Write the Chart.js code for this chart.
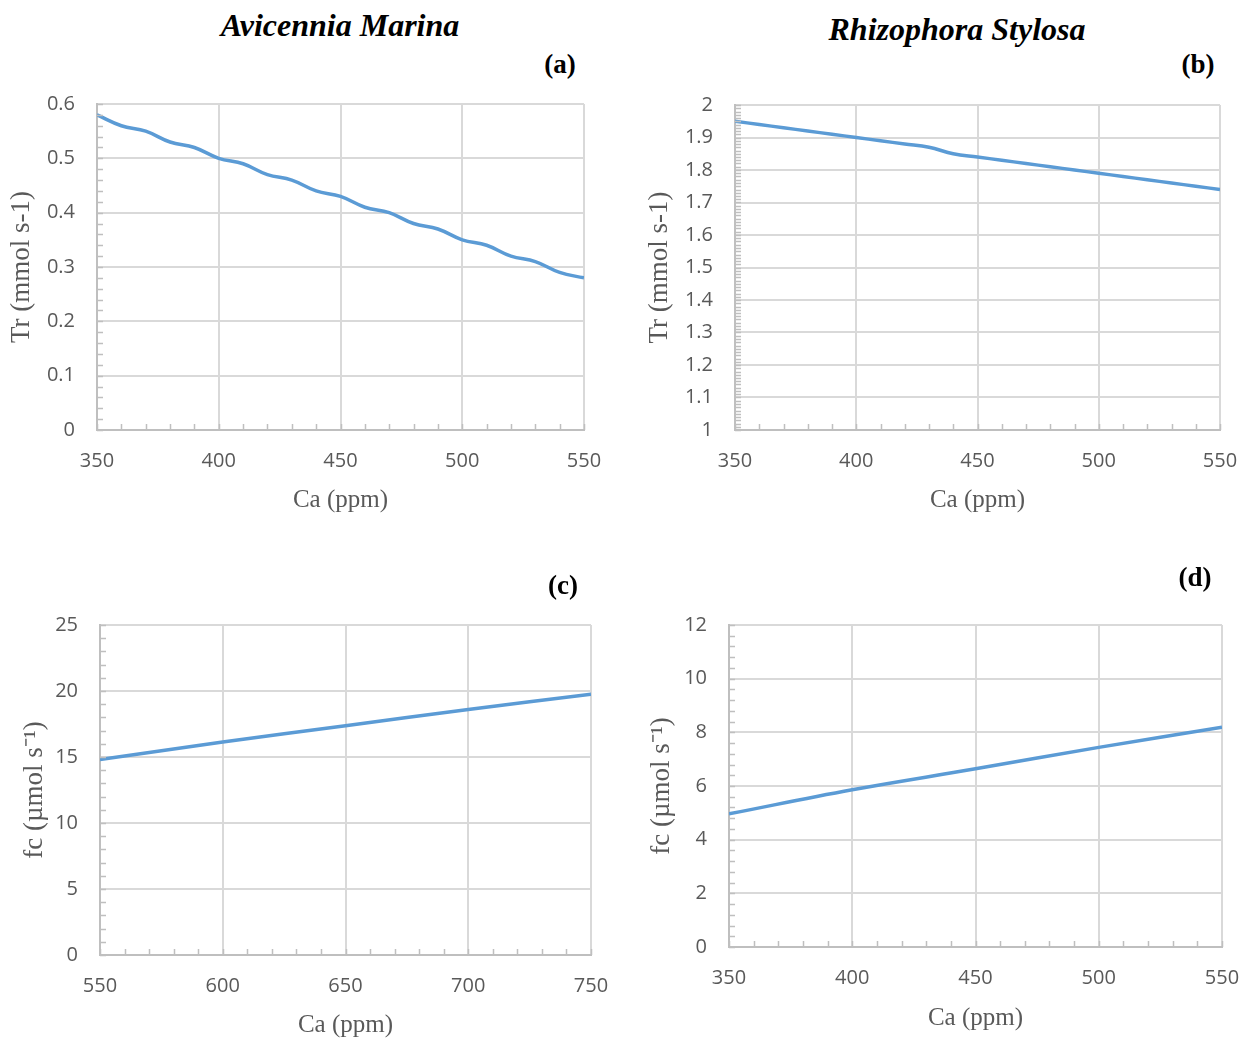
<!DOCTYPE html>
<html>
<head>
<meta charset="utf-8">
<script src="https://cdn.jsdelivr.net/npm/chart.js@4.4.1/dist/chart.umd.min.js"></script>
<style>
  html, body { margin: 0; padding: 0; background: #ffffff; }
  #wrap { position: relative; width: 1254px; height: 1040px; overflow: hidden; background: #fff; }
  .panel { position: absolute; }
  .panel canvas { display: block; }
  .txt { position: absolute; transform: translate(-50%, -50%); white-space: nowrap; font-family: "Liberation Serif", "Times New Roman", serif; color: #000; }
  .ttl { font-size: 32px; font-weight: bold; font-style: italic; }
  .lbl { font-size: 27px; font-weight: bold; }
</style>
</head>
<body>
<div id="wrap">
  <div class="panel" style="left:0px;top:90px;width:627px;height:440px;"><canvas id="cA" width="627" height="440"></canvas></div>
  <div class="panel" style="left:627px;top:90px;width:627px;height:440px;"><canvas id="cB" width="627" height="440"></canvas></div>
  <div class="panel" style="left:0px;top:560px;width:627px;height:480px;"><canvas id="cC" width="627" height="480"></canvas></div>
  <div class="panel" style="left:627px;top:560px;width:627px;height:480px;"><canvas id="cD" width="627" height="480"></canvas></div>
  <div class="txt ttl" style="left:340px;top:25px;">Avicennia Marina</div>
  <div class="txt ttl" style="left:957px;top:29px;">Rhizophora Stylosa</div>
  <div class="txt lbl" style="left:560px;top:64px;">(a)</div>
  <div class="txt lbl" style="left:1198px;top:64px;">(b)</div>
  <div class="txt lbl" style="left:563px;top:585px;">(c)</div>
  <div class="txt lbl" style="left:1195px;top:577px;">(d)</div>
</div>
<script>
// ---------------- DATA ----------------
const caA = [350, 360, 370, 380, 390, 400, 410, 420, 430, 440, 450, 460, 470, 480, 490, 500, 510, 520, 530, 540, 550];
const trA = [0.58, 0.56, 0.55, 0.53, 0.52, 0.50, 0.49, 0.47, 0.46, 0.44, 0.43, 0.41, 0.40, 0.38, 0.37, 0.35, 0.34, 0.32, 0.31, 0.29, 0.28];

const caB = [350, 360, 370, 380, 390, 400, 410, 420, 430, 440, 450, 460, 470, 480, 490, 500, 510, 520, 530, 540, 550];
const trB = [1.95, 1.94, 1.93, 1.92, 1.91, 1.90, 1.89, 1.88, 1.87, 1.85, 1.84, 1.83, 1.82, 1.81, 1.80, 1.79, 1.78, 1.77, 1.76, 1.75, 1.74];

const caC = [550, 600, 650, 700, 750];
const fcC = [14.8, 16.13, 17.37, 18.6, 19.75];

const caD = [350, 400, 450, 500, 550];
const fcD = [4.96, 5.86, 6.64, 7.44, 8.19];

const xTicksAB = [350, 400, 450, 500, 550];
const xTicksC = [550, 600, 650, 700, 750];
const xTicksD = [350, 400, 450, 500, 550];
const yTicksA = [0, 0.1, 0.2, 0.3, 0.4, 0.5, 0.6];
const yTicksB = [1, 1.1, 1.2, 1.3, 1.4, 1.5, 1.6, 1.7, 1.8, 1.9, 2];
const yTicksC = [0, 5, 10, 15, 20, 25];
const yTicksD = [0, 2, 4, 6, 8, 10, 12];

const xTitle = "Ca (ppm)";
const yTitleTr = "Tr (mmol s-1)";
const yTitleFc = "fc (\u00B5mol s\u207B\u00B9)";

// ---------------- STYLE ----------------
const LINE = "#5b9bd5";
const GRID = "#d9d9d9";
const AXIS = "#bfbfbf";
const TEXT = "#595959";
const TICKFONT = { family: "'Open Sans', 'Liberation Sans', sans-serif", size: 20 };
const XTITLEFONT = { family: "'Liberation Serif', 'Times New Roman', serif", size: 25 };
const YTITLEFONT = { family: "'Liberation Serif', 'Times New Roman', serif", size: 27 };

const minorTicks = {
  id: 'minorTicks',
  afterDraw(chart, args, opts) {
    const { ctx, chartArea } = chart;
    const xs = chart.scales.x, ys = chart.scales.y;
    ctx.save();
    ctx.strokeStyle = AXIS;
    ctx.lineWidth = 1.5;
    ctx.beginPath();
    const ny = Math.round((ys.max - ys.min) / opts.y);
    for (let i = 0; i <= ny; i++) {
      const p = Math.round(ys.getPixelForValue(ys.min + i * opts.y)) + 0.5;
      ctx.moveTo(chartArea.left, p);
      ctx.lineTo(chartArea.left + 6, p);
    }
    const nx = Math.round((xs.max - xs.min) / opts.x);
    for (let i = 0; i <= nx; i++) {
      const p = Math.round(xs.getPixelForValue(xs.min + i * opts.x)) + 0.5;
      ctx.moveTo(p, chartArea.bottom);
      ctx.lineTo(p, chartArea.bottom - 6);
    }
    ctx.stroke();
    ctx.restore();
  }
};

function makePanel(id, xs, ys, xTicks, yTicks, yTitle, geo, minor) {
  const pts = xs.map((x, i) => ({ x: x, y: ys[i] }));
  return new Chart(document.getElementById(id), {
    type: 'line',
    data: { datasets: [{ data: pts, borderColor: LINE, borderWidth: 3.5, pointRadius: 0, tension: 0.4, fill: false }] },
    plugins: [minorTicks],
    options: {
      responsive: false,
      animation: false,
      devicePixelRatio: 1,
      layout: { padding: { left: 0, top: geo.top, right: geo.right, bottom: 0 } },
      plugins: { legend: { display: false }, tooltip: { enabled: false }, minorTicks: minor },
      scales: {
        x: {
          type: 'linear',
          min: xTicks[0], max: xTicks[xTicks.length - 1],
          afterBuildTicks: s => { s.ticks = xTicks.map(v => ({ value: v })); },
          afterFit: s => { s.height = geo.xh; },
          grid: { color: GRID, lineWidth: 2, drawTicks: true, tickLength: 18, tickColor: 'rgba(0,0,0,0)' },
          border: { color: AXIS, width: 2 },
          ticks: { color: TEXT, font: TICKFONT, padding: 1, maxRotation: 0, autoSkip: false, callback: v => String(v) },
          title: { display: true, text: xTitle, color: TEXT, font: XTITLEFONT, padding: { top: 0, bottom: geo.xtp } }
        },
        y: {
          type: 'linear',
          min: yTicks[0], max: yTicks[yTicks.length - 1],
          afterBuildTicks: s => { s.ticks = yTicks.map(v => ({ value: v })); },
          afterFit: s => { s.width = geo.yw; },
          grid: { color: GRID, lineWidth: 2, drawTicks: true, tickLength: 20, tickColor: 'rgba(0,0,0,0)' },
          border: { color: AXIS, width: 2 },
          ticks: { color: TEXT, font: TICKFONT, padding: 2, autoSkip: false, callback: v => String(v) },
          title: { display: true, text: yTitle, color: TEXT, font: YTITLEFONT, padding: { top: geo.ytp, bottom: 0 } }
        }
      }
    }
  });
}

makePanel('cA', caA, trA, xTicksAB, yTicksA, yTitleTr, { top: 13, right: 43, xh: 100, yw: 97, xtp: 15, ytp: 6 }, { x: 10, y: 0.02 });
makePanel('cB', caB, trB, xTicksAB, yTicksB, yTitleTr, { top: 15, right: 34, xh: 100, yw: 108, xtp: 15, ytp: 17 }, { x: 10, y: 0.01 });
makePanel('cC', caC, fcC, xTicksC, yTicksC, yTitleFc, { top: 65, right: 36, xh: 85, yw: 100, xtp: 0, ytp: 19 }, { x: 10, y: 1 });
makePanel('cD', caD, fcD, xTicksD, yTicksD, yTitleFc, { top: 65, right: 32, xh: 93, yw: 102, xtp: 7, ytp: 19 }, { x: 10, y: 0.4 });
</script>
</body>
</html>
